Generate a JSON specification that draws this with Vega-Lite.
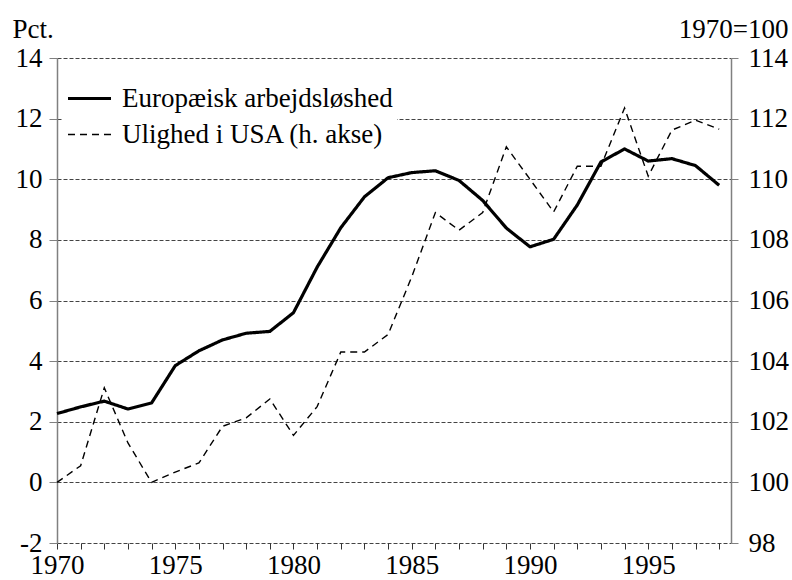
{
  "$schema": "https://vega.github.io/schema/vega-lite/v6.json",
  "width": 674,
  "height": 485,
  "autosize": "none",
  "padding": {"left": 57, "top": 58, "right": 61, "bottom": 37},
  "background": "white",
  "config": {
    "font": "Liberation Serif, Tinos, DejaVu Serif, serif",
    "view": {"stroke": null},
    "axis": {"labelFont": "Liberation Serif, Tinos, DejaVu Serif, serif", "titleFont": "Liberation Serif, Tinos, DejaVu Serif, serif", "labelColor": "black", "titleColor": "black"},
    "legend": {"labelFont": "Liberation Serif, Tinos, DejaVu Serif, serif", "titleFont": "Liberation Serif, Tinos, DejaVu Serif, serif"}
  },
  "data": {
    "values": [
      {"year": 1970, "series": "Europæisk arbejdsløshed", "value": 2.27},
      {"year": 1971, "series": "Europæisk arbejdsløshed", "value": 2.49},
      {"year": 1972, "series": "Europæisk arbejdsløshed", "value": 2.68},
      {"year": 1973, "series": "Europæisk arbejdsløshed", "value": 2.42},
      {"year": 1974, "series": "Europæisk arbejdsløshed", "value": 2.62},
      {"year": 1975, "series": "Europæisk arbejdsløshed", "value": 3.85},
      {"year": 1976, "series": "Europæisk arbejdsløshed", "value": 4.34},
      {"year": 1977, "series": "Europæisk arbejdsløshed", "value": 4.7},
      {"year": 1978, "series": "Europæisk arbejdsløshed", "value": 4.92},
      {"year": 1979, "series": "Europæisk arbejdsløshed", "value": 4.98},
      {"year": 1980, "series": "Europæisk arbejdsløshed", "value": 5.6},
      {"year": 1981, "series": "Europæisk arbejdsløshed", "value": 7.1},
      {"year": 1982, "series": "Europæisk arbejdsløshed", "value": 8.4},
      {"year": 1983, "series": "Europæisk arbejdsløshed", "value": 9.42},
      {"year": 1984, "series": "Europæisk arbejdsløshed", "value": 10.05},
      {"year": 1985, "series": "Europæisk arbejdsløshed", "value": 10.22},
      {"year": 1986, "series": "Europæisk arbejdsløshed", "value": 10.28},
      {"year": 1987, "series": "Europæisk arbejdsløshed", "value": 9.96},
      {"year": 1988, "series": "Europæisk arbejdsløshed", "value": 9.3},
      {"year": 1989, "series": "Europæisk arbejdsløshed", "value": 8.39},
      {"year": 1990, "series": "Europæisk arbejdsløshed", "value": 7.77},
      {"year": 1991, "series": "Europæisk arbejdsløshed", "value": 8.02},
      {"year": 1992, "series": "Europæisk arbejdsløshed", "value": 9.15},
      {"year": 1993, "series": "Europæisk arbejdsløshed", "value": 10.57},
      {"year": 1994, "series": "Europæisk arbejdsløshed", "value": 11.0},
      {"year": 1995, "series": "Europæisk arbejdsløshed", "value": 10.6},
      {"year": 1996, "series": "Europæisk arbejdsløshed", "value": 10.68},
      {"year": 1997, "series": "Europæisk arbejdsløshed", "value": 10.45},
      {"year": 1998, "series": "Europæisk arbejdsløshed", "value": 9.8},
      {"year": 1970, "series": "Ulighed i USA (h. akse)", "value": 100.0},
      {"year": 1971, "series": "Ulighed i USA (h. akse)", "value": 100.55},
      {"year": 1972, "series": "Ulighed i USA (h. akse)", "value": 103.12},
      {"year": 1973, "series": "Ulighed i USA (h. akse)", "value": 101.3},
      {"year": 1974, "series": "Ulighed i USA (h. akse)", "value": 100.0},
      {"year": 1975, "series": "Ulighed i USA (h. akse)", "value": 100.34},
      {"year": 1976, "series": "Ulighed i USA (h. akse)", "value": 100.64},
      {"year": 1977, "series": "Ulighed i USA (h. akse)", "value": 101.85},
      {"year": 1978, "series": "Ulighed i USA (h. akse)", "value": 102.13},
      {"year": 1979, "series": "Ulighed i USA (h. akse)", "value": 102.75},
      {"year": 1980, "series": "Ulighed i USA (h. akse)", "value": 101.55},
      {"year": 1981, "series": "Ulighed i USA (h. akse)", "value": 102.5},
      {"year": 1982, "series": "Ulighed i USA (h. akse)", "value": 104.3},
      {"year": 1983, "series": "Ulighed i USA (h. akse)", "value": 104.3},
      {"year": 1984, "series": "Ulighed i USA (h. akse)", "value": 104.88},
      {"year": 1985, "series": "Ulighed i USA (h. akse)", "value": 106.78},
      {"year": 1986, "series": "Ulighed i USA (h. akse)", "value": 108.9},
      {"year": 1987, "series": "Ulighed i USA (h. akse)", "value": 108.32},
      {"year": 1988, "series": "Ulighed i USA (h. akse)", "value": 108.9},
      {"year": 1989, "series": "Ulighed i USA (h. akse)", "value": 111.07},
      {"year": 1990, "series": "Ulighed i USA (h. akse)", "value": 110.0},
      {"year": 1991, "series": "Ulighed i USA (h. akse)", "value": 108.92},
      {"year": 1992, "series": "Ulighed i USA (h. akse)", "value": 110.43},
      {"year": 1993, "series": "Ulighed i USA (h. akse)", "value": 110.43},
      {"year": 1994, "series": "Ulighed i USA (h. akse)", "value": 112.35},
      {"year": 1995, "series": "Ulighed i USA (h. akse)", "value": 110.1},
      {"year": 1996, "series": "Ulighed i USA (h. akse)", "value": 111.62},
      {"year": 1997, "series": "Ulighed i USA (h. akse)", "value": 111.95},
      {"year": 1998, "series": "Ulighed i USA (h. akse)", "value": 111.65}
    ]
  },
  "encoding": {
    "x": {
      "field": "year",
      "type": "quantitative",
      "scale": {"domain": [1970, 1998.5], "nice": false, "zero": false},
      "axis": {
        "title": null,
        "values": [1970,1971,1972,1973,1974,1975,1976,1977,1978,1979,1980,1981,1982,1983,1984,1985,1986,1987,1988,1989,1990,1991,1992,1993,1994,1995,1996,1997,1998],
        "labelExpr": "datum.value % 5 == 0 ? datum.value : ''",
        "format": "d",
        "grid": false,
        "domain": false,
        "ticks": true,
        "tickSize": 6,
        "tickColor": "#333",
        "tickWidth": 1,
        "labelFontSize": 27,
        "labelPadding": 3,
        "labelFlush": false,
        "labelOverlap": false
      }
    },
    "strokeDash": {
      "field": "series",
      "type": "nominal",
      "scale": {"domain": ["Europæisk arbejdsløshed", "Ulighed i USA (h. akse)"], "range": [[1, 0], [7, 5]]},
      "legend": {
        "title": null,
        "orient": "none",
        "legendX": 5,
        "legendY": 13,
        "fillColor": "white",
        "padding": 4,
        "symbolType": "stroke",
        "symbolSize": 1850,
        "symbolStrokeColor": "black",
        "labelFontSize": 27,
        "labelColor": "black",
        "labelOffset": 9,
        "rowPadding": -12,
        "labelLimit": 400
      }
    },
    "strokeWidth": {
      "field": "series",
      "type": "nominal",
      "scale": {"domain": ["Europæisk arbejdsløshed", "Ulighed i USA (h. akse)"], "range": [3.2, 1.4]},
      "legend": null
    }
  },
  "layer": [
    {
      "transform": [{"filter": "datum.series == 'Europæisk arbejdsløshed'"}],
      "mark": {"type": "line", "color": "black", "strokeJoin": "round"},
      "encoding": {
        "y": {
          "field": "value",
          "type": "quantitative",
          "scale": {"domain": [-2, 14], "nice": false, "zero": false},
          "axis": {
            "orient": "left",
            "values": [-2, 0, 2, 4, 6, 8, 10, 12, 14],
            "labelExpr": "replace(datum.label, '−', '-')",
            "title": "Pct.",
            "titleAngle": 0,
            "titleAlign": "left",
            "titleBaseline": "alphabetic",
            "titleX": -45,
            "titleY": -21,
            "titleFontSize": 27,
            "titleFontWeight": "normal",
            "labelFontSize": 27,
            "labelPadding": 7,
            "labelFlush": false,
            "domainColor": "#808080",
            "domainWidth": 1.5,
            "tickColor": "#808080",
            "tickSize": 8,
            "tickWidth": 1,
            "grid": true,
            "gridColor": "#444",
            "gridDash": [4, 2],
            "gridWidth": 1
          }
        }
      }
    },
    {
      "transform": [{"filter": "datum.series == 'Ulighed i USA (h. akse)'"}],
      "mark": {"type": "line", "color": "black"},
      "encoding": {
        "y": {
          "field": "value",
          "type": "quantitative",
          "scale": {"domain": [98, 114], "nice": false, "zero": false},
          "axis": {
            "orient": "right",
            "values": [98, 100, 102, 104, 106, 108, 110, 112, 114],
            "title": "1970=100",
            "titleAngle": 0,
            "titleAlign": "right",
            "titleBaseline": "alphabetic",
            "titleX": 57,
            "titleY": -21,
            "titleFontSize": 27,
            "titleFontWeight": "normal",
            "labelFontSize": 27,
            "labelPadding": 10,
            "labelFlush": false,
            "domainColor": "#808080",
            "domainWidth": 1.5,
            "tickColor": "#808080",
            "tickSize": 7,
            "tickWidth": 1,
            "grid": false
          }
        }
      }
    }
  ],
  "resolve": {"scale": {"y": "independent"}}
}
